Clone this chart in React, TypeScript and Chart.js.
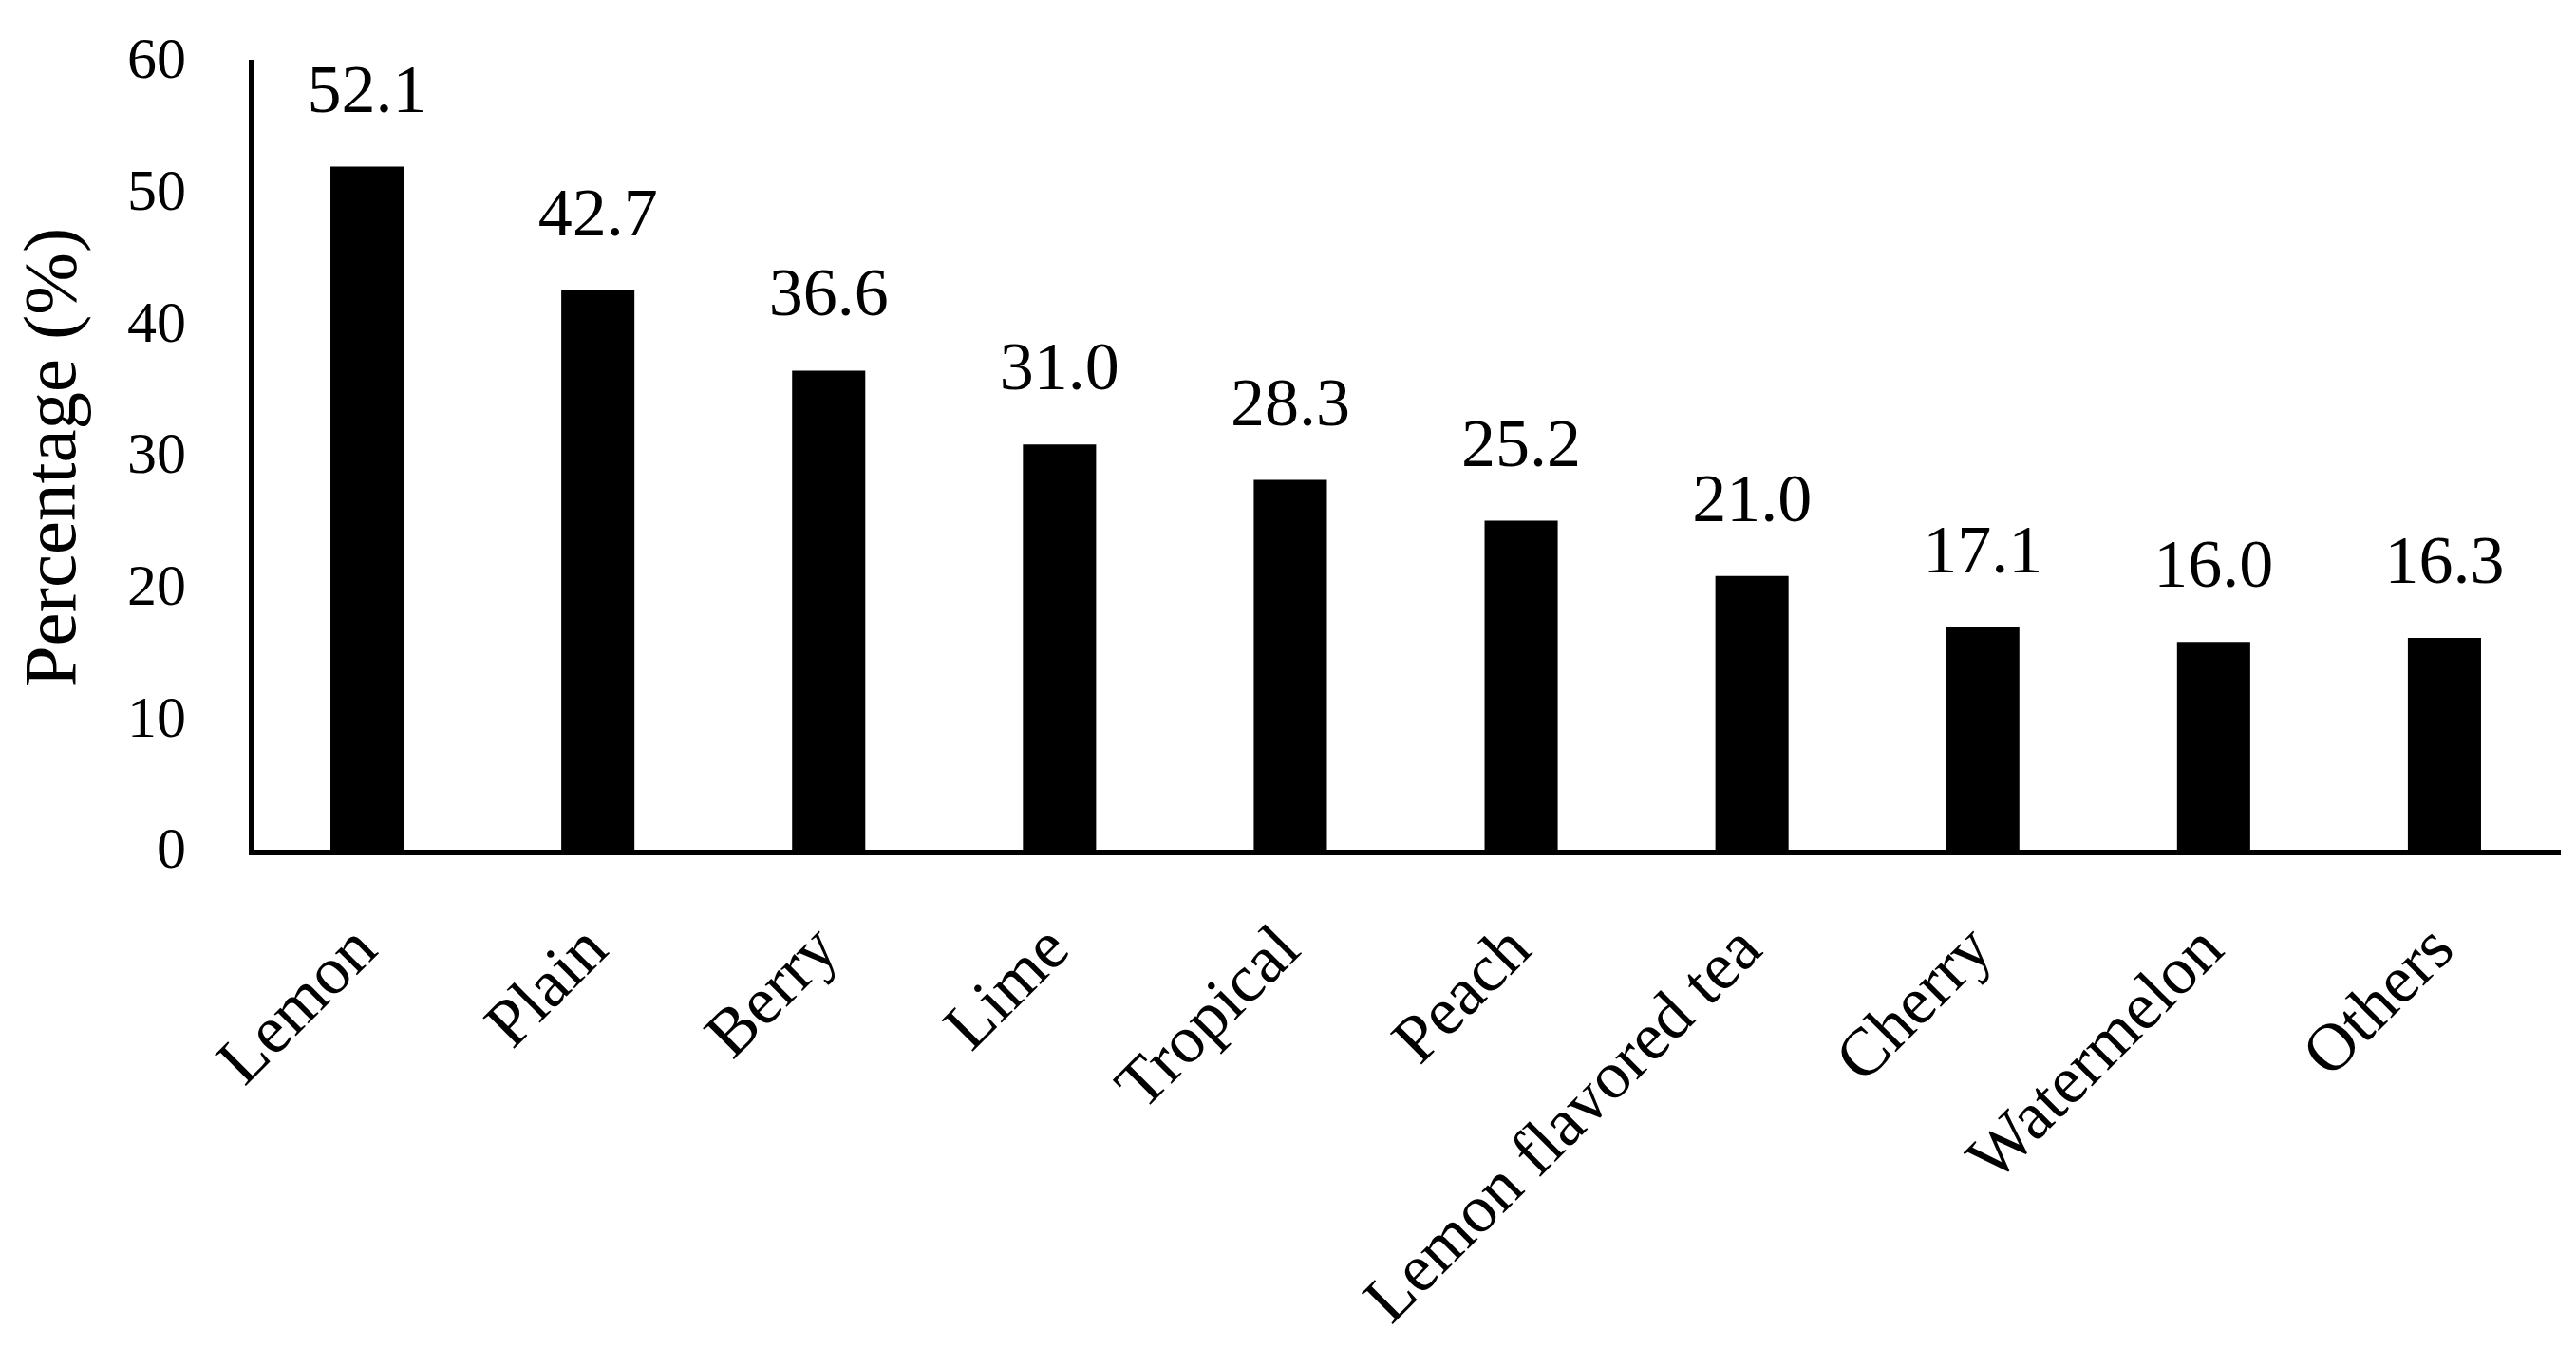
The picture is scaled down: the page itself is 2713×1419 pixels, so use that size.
import React, { useEffect, useRef } from "react";
import { Chart, registerables } from "chart.js";

Chart.register(...registerables);

const categories = ["Lemon", "Plain", "Berry", "Lime", "Tropical", "Peach", "Lemon flavored tea", "Cherry", "Watermelon", "Others"];
const percentages = [52.1, 42.7, 36.6, 31.0, 28.3, 25.2, 21.0, 17.1, 16.0, 16.3];
const yTicks = [0, 10, 20, 30, 40, 50, 60];
const yTitle = "Percentage (%)";

const W = 2713;
const H = 1419;
const FONT = "'Liberation Serif', 'Times New Roman', serif";

export default function App() {
  const ref = useRef<HTMLCanvasElement | null>(null);

  useEffect(() => {
    if (!ref.current) return;
    const valueLabels = {
      id: "valueLabels",
      afterDatasetsDraw(chart: any) {
        const ctx = chart.ctx;
        const meta = chart.getDatasetMeta(0);
        ctx.save();
        ctx.fillStyle = "#000";
        ctx.font = `72px ${FONT}`;
        ctx.textAlign = "center";
        ctx.textBaseline = "alphabetic";
        meta.data.forEach((bar: any, i: number) => {
          const v = chart.data.datasets[0].data[i] as number;
          ctx.fillText(v.toFixed(1), bar.x, bar.y - 58);
        });
        ctx.restore();
      },
    };
    const axisTitle = {
      id: "axisTitle",
      afterDraw(chart: any) {
        const ctx = chart.ctx;
        const a = chart.chartArea;
        const cy = (a.top + a.bottom) / 2;
        ctx.save();
        ctx.translate(58, cy);
        ctx.rotate(-Math.PI / 2);
        ctx.fillStyle = "#000";
        ctx.font = `79px ${FONT}`;
        ctx.textAlign = "center";
        ctx.textBaseline = "middle";
        ctx.fillText(yTitle, 0, 0);
        ctx.restore();
      },
    };
    const chart = new Chart(ref.current, {
      type: "bar",
      data: {
        labels: categories,
        datasets: [
          {
            data: percentages,
            backgroundColor: "#000",
            borderWidth: 0,
            barPercentage: 0.317,
            categoryPercentage: 1,
          },
        ],
      },
      options: {
        responsive: false,
        animation: false,
        layout: { padding: { top: 66, right: 17, left: 0, bottom: 0 } },
        plugins: { legend: { display: false }, tooltip: { enabled: false }, title: { display: false } },
        scales: {
          x: {
            grid: { display: false, drawTicks: false },
            border: { display: true, color: "#000", width: 6 },
            ticks: {
              color: "#000",
              font: { family: FONT, size: 71 },
              minRotation: 45,
              maxRotation: 45,
              padding: 62,
              autoSkip: false,
            },
            afterFit(scale: any) {
              scale.height = H - 898;
              scale.paddingLeft = 0;
              scale.paddingRight = 0;
            },
          },
          y: {
            min: 0,
            max: 60,
            afterBuildTicks(scale: any) {
              scale.ticks = yTicks.map((v) => ({ value: v }));
            },
            grid: { display: false, drawTicks: false },
            border: { display: true, color: "#000", width: 6 },
            ticks: {
              color: "#000",
              font: { family: FONT, size: 62 },
              padding: 69,
            },
            afterFit(scale: any) {
              scale.width = 265;
              scale.paddingTop = 0;
              scale.paddingBottom = 0;
            },
          },
        },
      },
      plugins: [valueLabels, axisTitle],
    });
    return () => chart.destroy();
  }, []);

  return (
    <div style={{ position: "absolute", left: 0, top: 0, width: W, height: H, background: "#fff" }}>
      <canvas ref={ref} width={W} height={H} style={{ display: "block" }} />
    </div>
  );
}
